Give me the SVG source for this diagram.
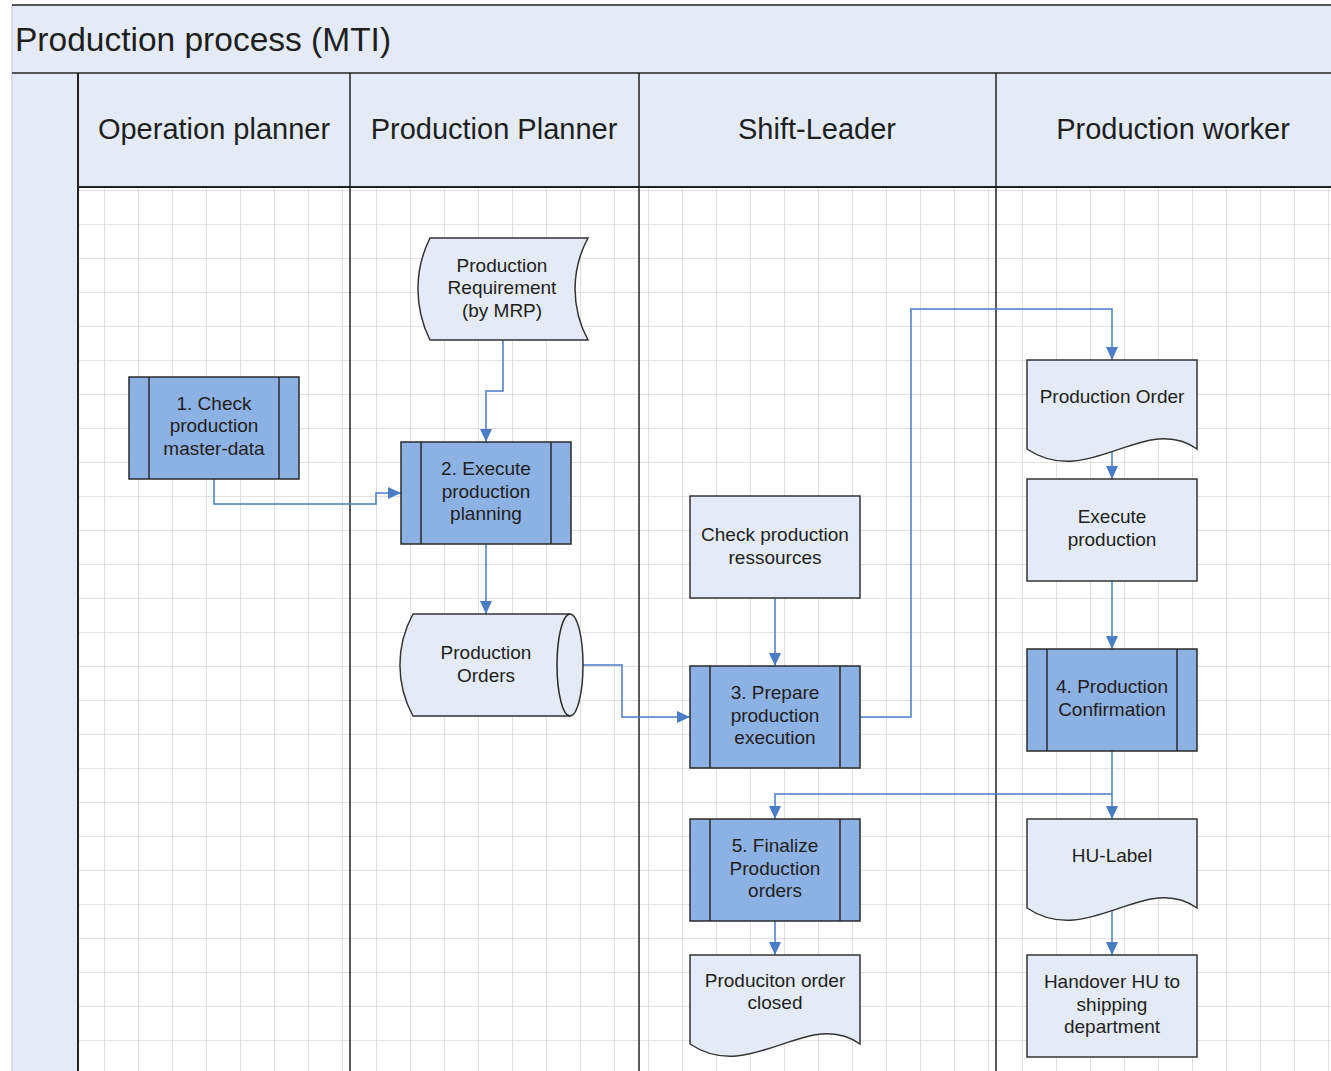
<svg xmlns="http://www.w3.org/2000/svg" width="1331" height="1071" viewBox="0 0 1331 1071">
<style>
  .t{font-family:"Liberation Sans",Arial,sans-serif;fill:#1e1e1e;text-anchor:middle}
  .n{font-size:19px}
  .h{font-size:29px}
  .light{fill:#e4ebf6;stroke:#333;stroke-width:1.5}
  .sub{fill:#8db1e2;stroke:#2a2a2a;stroke-width:1.5}
  .in{stroke:#2a2a2a;stroke-width:1.5;fill:none}
  .lane{stroke:#222;stroke-width:1.5;fill:none}
  .c{stroke:#4a7cc6;stroke-width:1.5;fill:none;marker-end:url(#arr)}
</style>
<defs>
  <pattern id="grid" patternUnits="userSpaceOnUse" x="104" y="190" width="34" height="34">
    <path d="M0,0 V34 M0,0 H34" stroke="#d9d9d9" stroke-width="1.6" fill="none"/>
  </pattern>
  <marker id="arr" markerUnits="userSpaceOnUse" markerWidth="13" markerHeight="12" refX="13" refY="6" orient="auto">
    <path d="M0,0 L13,6 L0,12 Z" fill="#4a7cc6"/>
  </marker>
</defs>

<g id="background">
  <rect x="0" y="0" width="1331" height="1071" fill="#ffffff"/>
  <rect x="78" y="187" width="1253" height="884" fill="url(#grid)"/>
  <rect x="12" y="5" width="1330" height="68" fill="#e4ebf6"/>
  <rect x="12" y="73" width="66" height="998" fill="#e4ebf6"/>
  <rect x="78" y="73" width="1253" height="114" fill="#e4ebf6"/>
  <line x1="12" y1="5" x2="12" y2="1071" stroke="#c8ccd4" stroke-width="1.2"/>
  <line x1="12" y1="5" x2="1331" y2="5" class="lane"/>
  <line x1="12" y1="73" x2="1331" y2="73" class="lane"/>
  <line x1="78" y1="187" x2="1331" y2="187" stroke="#222" stroke-width="2"/>
  <line x1="78" y1="73" x2="78" y2="1071" stroke="#222" stroke-width="2"/>
  <line x1="350" y1="73" x2="350" y2="1071" class="lane"/>
  <line x1="639" y1="73" x2="639" y2="1071" class="lane"/>
  <line x1="996" y1="73" x2="996" y2="1071" class="lane"/>
  <text x="15" y="51" class="t" style="font-size:33.5px;text-anchor:start">Production process (MTI)</text>
  <text x="214" y="139" class="t h">Operation planner</text>
  <text x="494" y="139" class="t h">Production Planner</text>
  <text x="817" y="139" class="t h">Shift-Leader</text>
  <text x="1173" y="139" class="t h">Production worker</text>
</g>

<g id="connectors">
  <path class="c" d="M214,479 V504 H376 V493 H401"/>
  <path class="c" d="M503,340 V391 H486 V442"/>
  <path class="c" d="M486,544 V614"/>
  <path class="c" d="M583,665 H622 V717 H690"/>
  <path class="c" d="M775,598 V666"/>
  <path class="c" d="M860,717 H911 V309 H1112 V360"/>
  <path class="c" d="M1112,452 V479"/>
  <path class="c" d="M1112,581 V649"/>
  <path class="c" d="M1112,751 V819"/>
  <path class="c" d="M1112,794 H775 V819"/>
  <path class="c" d="M775,921 V955"/>
  <path class="c" d="M1112,911 V955"/>
</g>

<g id="n1">
  <rect x="129" y="377" width="170" height="102" class="sub"/>
  <path d="M149,377 V479 M279,377 V479" class="in"/>
  <text class="t n" x="214" y="409.5">1. Check</text>
  <text class="t n" x="214" y="432">production</text>
  <text class="t n" x="214" y="455">master-data</text>
</g>

<g id="n-prodreq">
  <path d="M430,238 H588 A107,107 0 0 0 588,340 H430 A114,114 0 0 1 430,238 Z" class="light"/>
  <text class="t n" x="502" y="271.5">Production</text>
  <text class="t n" x="502" y="294">Requirement</text>
  <text class="t n" x="502" y="316.5">(by MRP)</text>
</g>

<g id="n2">
  <rect x="401" y="442" width="170" height="102" class="sub"/>
  <path d="M421,442 V544 M551,442 V544" class="in"/>
  <text class="t n" x="486" y="475">2. Execute</text>
  <text class="t n" x="486" y="497.5">production</text>
  <text class="t n" x="486" y="520">planning</text>
</g>

<g id="n-prodorders">
  <path d="M413,614 H570 A13,51 0 0 1 570,716 H413 A106,106 0 0 1 413,614 Z" class="light"/>
  <path d="M570,614 A13,51 0 0 0 570,716" class="in"/>
  <text class="t n" x="486" y="659">Production</text>
  <text class="t n" x="486" y="681.5">Orders</text>
</g>

<g id="n-checkres">
  <rect x="690" y="496" width="170" height="102" class="light"/>
  <text class="t n" x="775" y="541">Check production</text>
  <text class="t n" x="775" y="563.5">ressources</text>
</g>

<g id="n3">
  <rect x="690" y="666" width="170" height="102" class="sub"/>
  <path d="M710,666 V768 M840,666 V768" class="in"/>
  <text class="t n" x="775" y="699">3. Prepare</text>
  <text class="t n" x="775" y="721.5">production</text>
  <text class="t n" x="775" y="744">execution</text>
</g>

<g id="n-prodorder">
  <path d="M1027,360 H1197 V449 C1145,412 1088,490 1027,449 Z" class="light"/>
  <text class="t n" x="1112" y="403">Production Order</text>
</g>

<g id="n-execprod">
  <rect x="1027" y="479" width="170" height="102" class="light"/>
  <text class="t n" x="1112" y="523">Execute</text>
  <text class="t n" x="1112" y="545.5">production</text>
</g>

<g id="n4">
  <rect x="1027" y="649" width="170" height="102" class="sub"/>
  <path d="M1047,649 V751 M1177,649 V751" class="in"/>
  <text class="t n" x="1112" y="693">4. Production</text>
  <text class="t n" x="1112" y="715.5">Confirmation</text>
</g>

<g id="n5">
  <rect x="690" y="819" width="170" height="102" class="sub"/>
  <path d="M710,819 V921 M840,819 V921" class="in"/>
  <text class="t n" x="775" y="852">5. Finalize</text>
  <text class="t n" x="775" y="874.5">Production</text>
  <text class="t n" x="775" y="897">orders</text>
</g>

<g id="n-closed">
  <path d="M690,955 H860 V1044 C808,1007 751,1085 690,1044 Z" class="light"/>
  <text class="t n" x="775" y="986.5">Produciton order</text>
  <text class="t n" x="775" y="1009">closed</text>
</g>

<g id="n-hulabel">
  <path d="M1027,819 H1197 V908 C1145,871 1088,949 1027,908 Z" class="light"/>
  <text class="t n" x="1112" y="862">HU-Label</text>
</g>

<g id="n-handover">
  <rect x="1027" y="955" width="170" height="102" class="light"/>
  <text class="t n" x="1112" y="988">Handover HU to</text>
  <text class="t n" x="1112" y="1010.5">shipping</text>
  <text class="t n" x="1112" y="1033">department</text>
</g>
</svg>
